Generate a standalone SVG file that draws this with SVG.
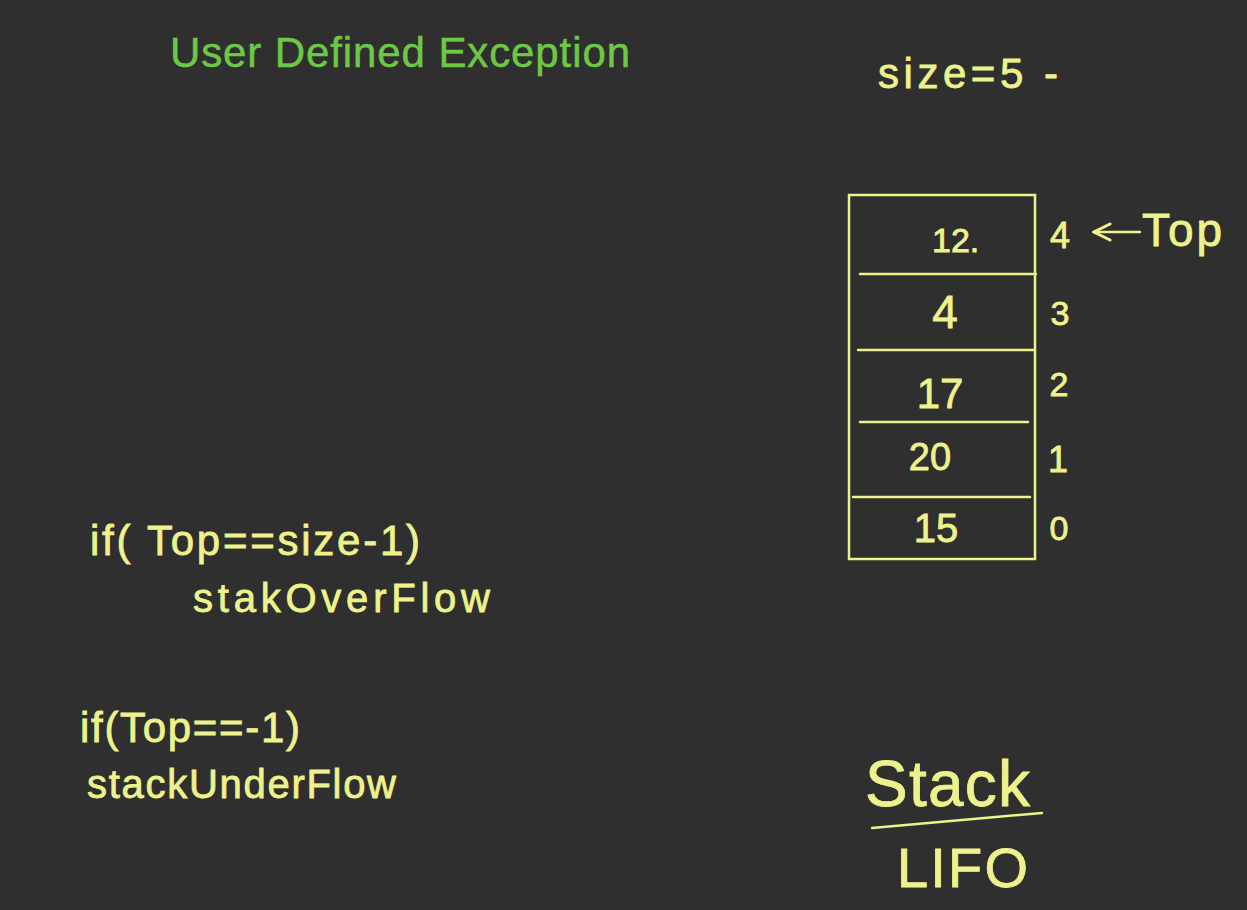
<svg xmlns="http://www.w3.org/2000/svg" width="1247" height="910" viewBox="0 0 1247 910">
<style>
.hw{font-family:"Liberation Sans","DejaVu Sans",sans-serif;fill:#eef28c;stroke:#eef28c;stroke-width:0.8;}
.ln{stroke:#eef28c;stroke-width:2.5;fill:none;stroke-linecap:round;}
.title{font-family:"Liberation Sans",Arial,sans-serif;fill:#6dc846;stroke:#6dc846;stroke-width:0.5;font-size:42px;}
</style>
<defs>
<marker id="ah" viewBox="0 0 10 10" refX="9" refY="5" markerWidth="8" markerHeight="8" orient="auto">
<path d="M1,1 L9,5 L1,9" stroke="#eef28c" stroke-width="1.5" fill="none" stroke-linecap="round"/>
</marker>
</defs>
<rect width="1247" height="910" fill="#2f2f2f"/>
<g id="title"><text class="title" x="170" y="67" textLength="460">User Defined Exception</text></g>
<g id="size"><text class="hw" x="878" y="88" font-size="42" textLength="180">size=5 -</text></g>
<g id="stack">
<rect class="ln" x="849" y="195" width="186" height="364"/>
<line class="ln" x1="860" y1="274" x2="1036" y2="274"/>
<line class="ln" x1="858" y1="350" x2="1034" y2="350"/>
<line class="ln" x1="860" y1="422" x2="1028" y2="422"/>
<line class="ln" x1="853" y1="497" x2="1030" y2="497"/>
<text class="hw" x="932" y="252" font-size="34">12.</text>
<text class="hw" x="945" y="328" font-size="46" text-anchor="middle">4</text>
<text class="hw" x="940" y="408" font-size="42" text-anchor="middle">17</text>
<text class="hw" x="930" y="470" font-size="38" text-anchor="middle">20</text>
<text class="hw" x="936" y="542" font-size="40" text-anchor="middle">15</text>
</g>
<g id="indices">
<text class="hw" x="1060" y="248" font-size="36" text-anchor="middle">4</text>
<text class="hw" x="1060" y="325" font-size="34" text-anchor="middle">3</text>
<text class="hw" x="1059" y="396" font-size="34" text-anchor="middle">2</text>
<text class="hw" x="1058" y="472" font-size="36" text-anchor="middle">1</text>
<text class="hw" x="1059" y="540" font-size="34" text-anchor="middle">0</text>
</g>
<g id="connectors">
<line class="ln" x1="1140" y1="232" x2="1094" y2="232" marker-end="url(#ah)"/>
<line class="ln" x1="872" y1="828" x2="1042" y2="813"/>
</g>
<g id="top-label"><text class="hw" x="1142" y="246" font-size="46" textLength="80">Top</text></g>
<g id="overflow">
<text class="hw" x="90" y="555" font-size="42" textLength="330">if( Top==size-1)</text>
<text class="hw" x="193" y="612" font-size="40" textLength="297">stakOverFlow</text>
</g>
<g id="underflow">
<text class="hw" x="80" y="742" font-size="42" textLength="220">if(Top==-1)</text>
<text class="hw" x="87" y="798" font-size="40" textLength="309">stackUnderFlow</text>
</g>
<g id="stack-label">
<text class="hw" x="865" y="806" font-size="64" textLength="165">Stack</text>
<text class="hw" x="897" y="887" font-size="56" textLength="131">LIFO</text>
</g>
</svg>
